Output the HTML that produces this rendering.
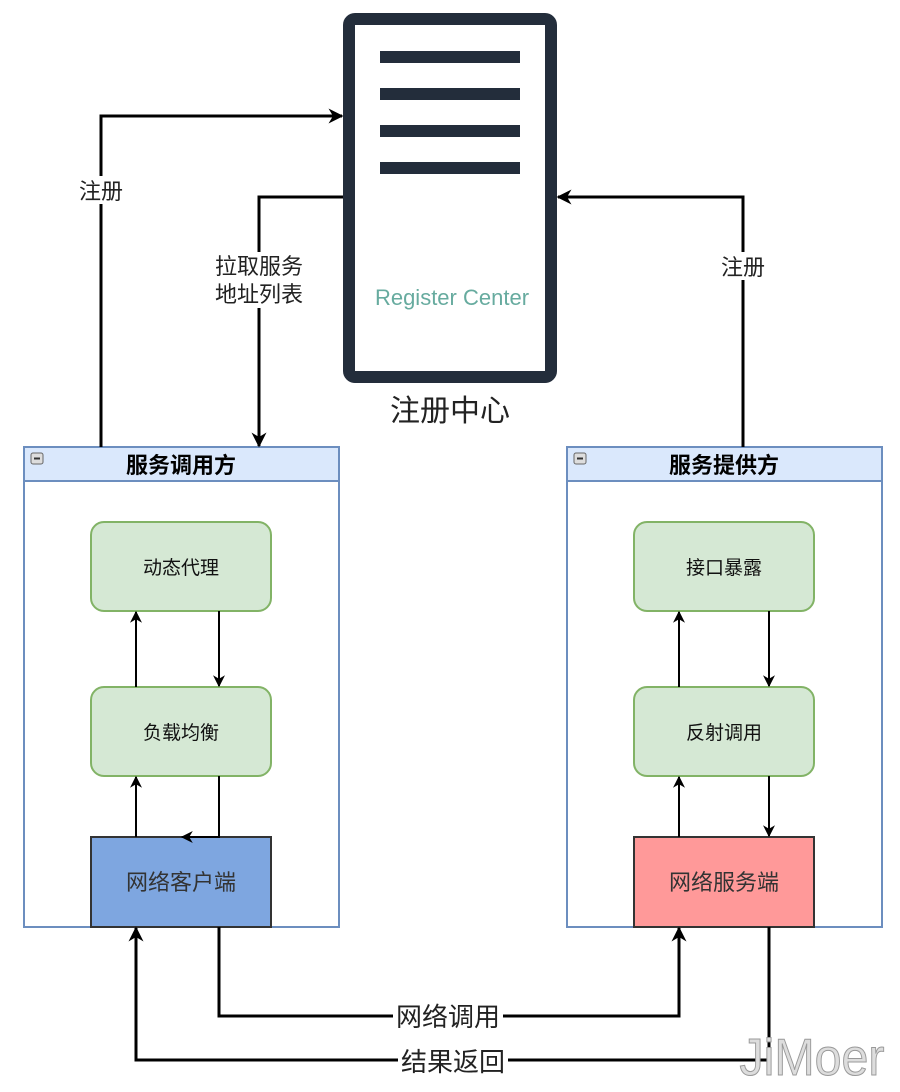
<!DOCTYPE html>
<html><head><meta charset="utf-8"><style>
html,body{margin:0;padding:0;background:#fff;width:900px;height:1092px;overflow:hidden}
text{font-family:"Liberation Sans","Noto Sans CJK SC",sans-serif}
</style></head><body>
<svg width="900" height="1092" viewBox="0 0 900 1092" xmlns="http://www.w3.org/2000/svg">
<defs>
<marker id="a" viewBox="0 0 10 10" refX="9" refY="5" markerWidth="12" markerHeight="12" orient="auto" markerUnits="userSpaceOnUse">
<path d="M0,0 L10,5 L0,10 L3,5 z" fill="#000"/></marker>
<marker id="b" viewBox="0 0 10 10" refX="9" refY="5" markerWidth="15" markerHeight="15" orient="auto" markerUnits="userSpaceOnUse">
<path d="M0,0 L10,5 L0,10 L3,5 z" fill="#000"/></marker>
</defs>
<rect x="349" y="19" width="202" height="358" rx="6" fill="#fff" stroke="#232d3b" stroke-width="12"/>
<g stroke="#232d3b" stroke-width="12"><line x1="380" y1="57" x2="520" y2="57"/><line x1="380" y1="94" x2="520" y2="94"/><line x1="380" y1="131" x2="520" y2="131"/><line x1="380" y1="168" x2="520" y2="168"/></g>
<text x="452" y="305" font-size="22" fill="#67ab9f" text-anchor="middle">Register Center</text>
<text x="450" y="421" font-size="30" fill="#222" text-anchor="middle">注册中心</text>
<g stroke="#6c8ebf" stroke-width="2">
<rect x="24" y="447" width="315" height="480" fill="#fff"/><rect x="24" y="447" width="315" height="34" fill="#dae8fc"/>
<rect x="567" y="447" width="315" height="480" fill="#fff"/><rect x="567" y="447" width="315" height="34" fill="#dae8fc"/>
</g>
<g fill="#ddd" stroke="#666" stroke-width="1"><rect x="31" y="453" width="12" height="11" rx="2"/><rect x="574" y="453" width="12" height="11" rx="2"/></g>
<g stroke="#333" stroke-width="2"><line x1="34" y1="458.5" x2="40" y2="458.5"/><line x1="577" y1="458.5" x2="583" y2="458.5"/></g>
<text x="181" y="473" font-size="22" font-weight="bold" text-anchor="middle">服务调用方</text>
<text x="724" y="473" font-size="22" font-weight="bold" text-anchor="middle">服务提供方</text>
<g fill="#d5e8d4" stroke="#82b366" stroke-width="2">
<rect x="91" y="522" width="180" height="89" rx="13"/><rect x="91" y="687" width="180" height="89" rx="13"/>
<rect x="634" y="522" width="180" height="89" rx="13"/><rect x="634" y="687" width="180" height="89" rx="13"/>
</g>
<rect x="91" y="837" width="180" height="90" fill="#7ea6e0" stroke="#333" stroke-width="2"/>
<rect x="634" y="837" width="180" height="90" fill="#ff9999" stroke="#333" stroke-width="2"/>
<g font-size="19" text-anchor="middle" fill="#111">
<text x="181" y="574">动态代理</text><text x="181" y="739">负载均衡</text>
<text x="724" y="574">接口暴露</text><text x="724" y="739">反射调用</text>
</g>
<g font-size="22" text-anchor="middle" fill="#333">
<text x="181" y="890">网络客户端</text><text x="724" y="890">网络服务端</text>
</g>
<g stroke="#000" stroke-width="2" fill="none" marker-end="url(#a)">
<line x1="136" y1="687" x2="136" y2="612"/><line x1="219" y1="611" x2="219" y2="686"/>
<line x1="136" y1="837" x2="136" y2="777"/><polyline points="219,776 219,837 182,837"/>
<line x1="679" y1="687" x2="679" y2="612"/><line x1="769" y1="611" x2="769" y2="686"/>
<line x1="679" y1="837" x2="679" y2="777"/><line x1="769" y1="776" x2="769" y2="836"/>
</g>
<g stroke="#000" stroke-width="3" fill="none" marker-end="url(#b)">
<polyline points="101,447 101,116 342,116"/>
<polyline points="343,197 259,197 259,446"/>
<polyline points="743,447 743,197 558,197"/>
<polyline points="219,927 219,1016 679,1016 679,928"/>
<polyline points="769,927 769,1060 136,1060 136,928"/>
</g>
<g text-anchor="middle" fill="#222">
<rect x="76" y="176" width="50" height="28" fill="#fff"/><text x="101" y="199" font-size="22">注册</text>
<rect x="212" y="252" width="94" height="56" fill="#fff"/><text x="259" y="274" font-size="22">拉取服务</text><text x="259" y="302" font-size="22">地址列表</text>
<rect x="718" y="252" width="50" height="28" fill="#fff"/><text x="743" y="275" font-size="22">注册</text>
<rect x="393" y="1000" width="110" height="32" fill="#fff"/><text x="448" y="1026" font-size="26">网络调用</text>
<rect x="398" y="1044" width="110" height="32" fill="#fff"/><text x="453" y="1071" font-size="26">结果返回</text>
</g>
<text x="812" y="1075" font-size="52" fill="#ddd" stroke="#999" stroke-width="1" text-anchor="middle" textLength="145" lengthAdjust="spacingAndGlyphs">JiMoer</text>
</svg>
</body></html>
